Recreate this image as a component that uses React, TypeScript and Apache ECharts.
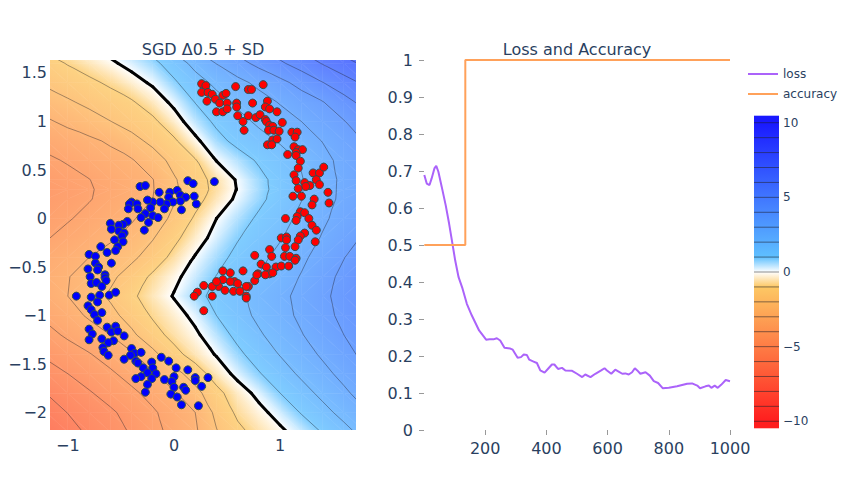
import { useEffect, useRef } from "react"
import * as echarts from "echarts"

const FONT = "DejaVu Sans"
const INK = "#2a3f5f"

// decision surface, values at these nodes
const xNodes = [-1.2, -1.0, -0.8, -0.6, -0.4, -0.2, 0, 0.2, 0.4, 0.6, 0.8, 1.0, 1.2, 1.4, 1.6, 1.8]
const yNodes = [1.8, 1.6, 1.4, 1.2, 1.0, 0.8, 0.6, 0.4, 0.3, 0.2, 0.0, -0.2, -0.4, -0.6, -0.8, -1.0, -1.2, -1.4, -1.6, -1.8, -2.0, -2.2]
const zGrid = [
  [-0.64, -0.27, 0.09, 0.45, 0.82, 1.5, 2.5, 3.31, 3.94, 4.55, 5.15, 5.76, 6.38, 7.0, 7.63, 8.2],
  [-1.36, -0.94, -0.55, -0.16, 0.29, 0.76, 1.45, 2.3, 3.03, 3.66, 4.26, 4.85, 5.45, 6.06, 6.65, 7.2],
  [-1.84, -1.52, -1.21, -0.84, -0.37, 0.14, 0.86, 1.59, 2.23, 2.73, 3.23, 3.74, 4.32, 4.97, 5.58, 6.18],
  [-2.47, -2.12, -1.78, -1.44, -1.1, -0.52, 0.21, 1.03, 1.64, 2.18, 2.62, 3.07, 3.51, 3.96, 4.64, 5.33],
  [-3.14, -2.77, -2.4, -2.02, -1.61, -1.2, -0.41, 0.5, 1.18, 1.69, 2.17, 2.58, 3.0, 3.48, 3.95, 4.64],
  [-3.73, -3.47, -3.2, -2.86, -2.32, -1.76, -1.15, -0.21, 0.7, 1.27, 1.67, 2.09, 2.56, 3.03, 3.54, 4.06],
  [-4.15, -3.92, -3.64, -3.36, -3.08, -2.45, -1.72, -1.07, 0.03, 0.58, 1.12, 1.6, 2.09, 2.72, 3.28, 3.79],
  [-4.5, -4.26, -4.02, -3.7, -3.37, -3.03, -2.1, -1.41, -0.69, 0.1, 0.74, 1.35, 1.94, 2.6, 3.2, 3.7],
  [-4.62, -4.35, -4.08, -3.75, -3.4, -3.05, -2.17, -1.45, -0.74, 0.05, 0.7, 1.34, 1.95, 2.62, 3.21, 3.7],
  [-4.6, -4.33, -4.05, -3.71, -3.36, -3.0, -2.09, -1.33, -0.56, 0.18, 0.79, 1.38, 1.97, 2.63, 3.23, 3.73],
  [-4.3, -4.07, -3.77, -3.44, -3.11, -2.54, -1.77, -0.87, 0.0, 0.59, 1.15, 1.67, 2.22, 2.84, 3.37, 3.85],
  [-4.05, -3.74, -3.44, -3.14, -2.67, -2.06, -1.25, -0.42, 0.31, 0.94, 1.44, 1.93, 2.5, 3.08, 3.61, 4.14],
  [-3.6, -3.3, -3.0, -2.6, -2.2, -1.57, -0.72, 0.06, 0.69, 1.25, 1.75, 2.27, 2.81, 3.38, 3.97, 4.56],
  [-3.4, -3.04, -2.63, -2.21, -1.58, -0.82, -0.21, 0.41, 1.03, 1.54, 2.05, 2.55, 3.06, 3.65, 4.24, 4.85],
  [-3.45, -3.0, -2.44, -1.86, -1.17, -0.55, 0.06, 0.71, 1.28, 1.79, 2.29, 2.76, 3.26, 3.79, 4.35, 4.94],
  [-3.8, -3.36, -2.88, -2.29, -1.62, -0.89, -0.37, 0.23, 1.0, 1.63, 2.2, 2.68, 3.18, 3.69, 4.24, 4.85],
  [-4.3, -3.85, -3.43, -3.0, -2.2, -1.38, -0.7, -0.16, 0.54, 1.25, 1.88, 2.42, 2.95, 3.47, 4.0, 4.57],
  [-4.84, -4.45, -4.06, -3.6, -3.14, -2.26, -1.32, -0.58, 0.07, 0.79, 1.44, 2.05, 2.59, 3.14, 3.68, 4.24],
  [-5.4, -5.0, -4.57, -4.15, -3.65, -3.11, -2.38, -1.5, -0.55, 0.27, 0.93, 1.56, 2.17, 2.72, 3.28, 3.83],
  [-5.98, -5.53, -5.09, -4.64, -4.2, -3.69, -3.11, -2.33, -1.29, -0.46, 0.26, 1.0, 1.63, 2.24, 2.82, 3.41],
  [-6.42, -5.98, -5.56, -5.15, -4.66, -4.13, -3.57, -3.0, -1.76, -0.81, -0.27, 0.36, 1.06, 1.69, 2.3, 2.9],
  [-6.8, -6.33, -5.86, -5.4, -4.91, -4.3, -3.71, -3.14, -2.06, -1.24, -0.67, -0.19, 0.4, 1.06, 1.69, 2.33],
]

const contourLevels = [-10, -9, -8, -7, -6, -5, -4, -3, -2, -1, 0, 1, 2, 3, 4, 5, 6, 7, 8, 9, 10]
const colorbarTicks = [-10, -5, 0, 5, 10]

const bluePoints = [
  [0.38, 0.38], [0.13, 0.39], [0.18, 0.36], [-0.32, 0.33], [-0.27, 0.34], [-0.14, 0.27], [-0.04, 0.27], [0.03, 0.29],
  [0.06, 0.24], [-0.05, 0.22], [0.11, 0.22], [0.19, 0.23], [0.21, 0.15], [0.06, 0.18], [-0.01, 0.17], [-0.07, 0.15],
  [-0.13, 0.17], [-0.2, 0.17], [-0.25, 0.19], [-0.4, 0.17], [-0.42, 0.15], [-0.35, 0.15], [-0.43, 0.1], [-0.34, 0.1],
  [-0.22, 0.11], [-0.09, 0.1], [0.07, 0.09], [-0.27, 0.05], [-0.31, 0.01], [-0.2, 0.03], [-0.15, 0.01], [-0.24, -0.04],
  [-0.28, -0.12], [-0.44, -0.03], [-0.48, -0.06], [-0.52, -0.07], [-0.6, -0.05], [-0.59, -0.11], [-0.52, -0.13],
  [-0.47, -0.15], [-0.49, -0.18], [-0.56, -0.22], [-0.48, -0.24], [-0.53, -0.29], [-0.69, -0.29], [-0.55, -0.33],
  [-0.63, -0.35], [-0.8, -0.37], [-0.74, -0.39], [-0.74, -0.46], [-0.59, -0.46], [-0.71, -0.5], [-0.81, -0.52],
  [-0.79, -0.6], [-0.65, -0.58], [-0.72, -0.53], [-0.65, -0.61], [-0.78, -0.67], [-0.73, -0.66], [-0.64, -0.64],
  [-0.68, -0.7], [-0.92, -0.8], [-0.78, -0.81], [-0.7, -0.79], [-0.61, -0.79], [-0.55, -0.76], [-0.72, -0.86],
  [-0.81, -0.9], [-0.78, -0.94], [-0.75, -0.99], [-0.68, -0.97], [-0.72, -1.05], [-0.8, -1.14], [-0.63, -1.12],
  [-0.55, -1.11], [-0.59, -1.17], [-0.53, -1.16], [-0.47, -1.21], [-0.77, -1.19], [-0.8, -1.25], [-0.68, -1.24],
  [-0.57, -1.26], [-0.62, -1.28], [-0.67, -1.33], [-0.66, -1.37], [-0.62, -1.41], [-0.4, -1.34], [-0.37, -1.39],
  [-0.31, -1.38], [-0.41, -1.41], [-0.47, -1.45], [-0.36, -1.47], [-0.34, -1.49], [-0.12, -1.43], [-0.05, -1.47],
  [-0.21, -1.48], [-0.29, -1.54], [-0.2, -1.54], [0.02, -1.54], [0.13, -1.56], [-0.17, -1.6], [-0.25, -1.59],
  [-0.31, -1.63], [-0.36, -1.65], [-0.21, -1.65], [-0.09, -1.66], [0.0, -1.63], [0.2, -1.64], [0.2, -1.67],
  [0.32, -1.64], [-0.02, -1.68], [-0.25, -1.71], [0.0, -1.74], [0.09, -1.74], [0.11, -1.77], [0.26, -1.73],
  [-0.03, -1.81], [-0.27, -1.79], [0.03, -1.84], [0.07, -1.92], [0.23, -1.93],
]

const redPoints = [
  [0.26, 1.39], [0.3, 1.37], [0.26, 1.3], [0.32, 1.3], [0.36, 1.28], [0.31, 1.21], [0.39, 1.23], [0.46, 1.27],
  [0.49, 1.29], [0.43, 1.19], [0.5, 1.19], [0.4, 1.1], [0.46, 1.1], [0.5, 1.13], [0.59, 1.19], [0.59, 1.15],
  [0.58, 1.36], [0.7, 1.33], [0.73, 1.33], [0.84, 1.38], [0.74, 1.19], [0.88, 1.21], [0.86, 1.15], [0.9, 1.13],
  [0.97, 1.1], [0.6, 1.06], [0.7, 1.06], [0.77, 1.04], [0.81, 1.07], [0.86, 1.02], [0.87, 1.0], [0.65, 1.0],
  [0.66, 0.91], [0.9, 0.96], [0.93, 0.95], [1.02, 0.99], [0.89, 0.91], [0.94, 0.91], [0.99, 0.9], [0.93, 0.81],
  [0.97, 0.82], [0.88, 0.76], [0.92, 0.76], [1.11, 0.89], [1.16, 0.89], [1.14, 0.84], [1.13, 0.74], [1.17, 0.71],
  [1.21, 0.71], [1.15, 0.68], [1.07, 0.66], [1.15, 0.65], [1.19, 0.59], [1.17, 0.52], [1.13, 0.45], [1.15, 0.39],
  [1.31, 0.47], [1.37, 0.47], [1.41, 0.53], [1.34, 0.4], [1.23, 0.37], [1.28, 0.34], [1.24, 0.33], [1.37, 0.35],
  [1.17, 0.31], [1.12, 0.23], [1.2, 0.23], [1.32, 0.2], [1.45, 0.27], [1.46, 0.16], [1.3, 0.14], [1.19, 0.07],
  [1.23, 0.06], [1.27, 0.0], [1.16, 0.02], [1.15, -0.02], [1.05, 0.0], [1.3, -0.07], [1.34, -0.12], [1.23, -0.15],
  [1.19, -0.18], [1.33, -0.24], [1.01, -0.2], [1.06, -0.19], [1.06, -0.22], [1.17, -0.22], [1.14, -0.29],
  [1.05, -0.3], [0.9, -0.32], [0.92, -0.39], [1.04, -0.39], [1.09, -0.39], [0.76, -0.38], [1.15, -0.41],
  [0.82, -0.47], [0.87, -0.5], [0.9, -0.57], [0.96, -0.5], [1.01, -0.49], [1.08, -0.49], [0.65, -0.54],
  [0.46, -0.54], [0.53, -0.56], [0.79, -0.57], [0.86, -0.58], [0.76, -0.64], [0.7, -0.7], [0.57, -0.65],
  [0.53, -0.65], [0.46, -0.63], [0.42, -0.7], [0.36, -0.7], [0.28, -0.69], [0.22, -0.76], [0.19, -0.8],
  [0.36, -0.8], [0.48, -0.74], [0.56, -0.75], [0.62, -0.75], [0.68, -0.8], [0.28, -0.95], [0.68, -0.82],
  [0.78, -0.58], [0.93, -0.56], [1.14, -0.43], [0.4, -0.65], [0.6, -0.67], [0.68, -0.7],
]

const lossSteps = [1, 9, 18, 25, 34, 40, 47, 58, 71, 82, 91, 102, 113, 126, 140, 156, 180, 203, 214, 227, 238, 249,
  263, 282, 290, 306, 317, 326, 336, 344, 358, 369, 380, 394, 407, 418, 426, 438, 451, 462, 484, 500, 517, 527, 544,
  560, 579, 590, 598, 612, 625, 636, 648, 658, 669, 680, 689, 697, 707, 724, 738, 751, 765, 780, 800, 827, 860, 876,
  893, 902, 920, 931, 939, 950, 960, 971, 986, 1000]
const lossValues = [0.689, 0.666, 0.662, 0.68, 0.707, 0.714, 0.698, 0.657, 0.607, 0.558, 0.513, 0.458, 0.413, 0.382,
  0.341, 0.31, 0.269, 0.244, 0.245, 0.245, 0.248, 0.242, 0.222, 0.22, 0.217, 0.195, 0.197, 0.204, 0.203, 0.19, 0.185,
  0.181, 0.161, 0.155, 0.167, 0.177, 0.177, 0.165, 0.168, 0.161, 0.16, 0.152, 0.143, 0.15, 0.143, 0.152, 0.161, 0.167,
  0.161, 0.152, 0.163, 0.158, 0.152, 0.153, 0.15, 0.156, 0.167, 0.161, 0.152, 0.156, 0.147, 0.132, 0.127, 0.113,
  0.114, 0.118, 0.125, 0.126, 0.12, 0.113, 0.118, 0.12, 0.114, 0.12, 0.114, 0.122, 0.135, 0.132]
const accuracySteps = [1, 135, 135, 1000]
const accuracyValues = [0.5, 0.5, 1, 1]

const xTicksLeft = [-1, 0, 1]
const yTicksLeft = [-2, -1.5, -1, -0.5, 0, 0.5, 1, 1.5]
const stepTicks = [200, 400, 600, 800, 1000]

// colour scale (red - white - blue) and the 80% opacity of the filled surface
const scaleStops = [-10, -1, 0, 1, 10]
const scaleColors = [[255, 30, 30], [253, 200, 100], [255, 255, 255], [95, 192, 255], [25, 25, 255]]
const FIELD_FADE = 0.2

function colorAt(v: number, fade: number) {
  let c = scaleColors[0]
  if (v >= scaleStops[scaleStops.length - 1]) c = scaleColors[scaleColors.length - 1]
  else if (v > scaleStops[0]) {
    for (let k = 0; k < scaleStops.length - 1; k++) {
      if (v <= scaleStops[k + 1]) {
        const t = (v - scaleStops[k]) / (scaleStops[k + 1] - scaleStops[k])
        c = scaleColors[k].map((a, n) => a + t * (scaleColors[k + 1][n] - a))
        break
      }
    }
  }
  const m = c.map((a) => Math.round(a * (1 - fade) + 255 * fade))
  return `rgb(${m[0]},${m[1]},${m[2]})`
}

function stopsBetween(lo: number, hi: number, fade: number) {
  const stops = [{ offset: 0, color: colorAt(lo, fade) }]
  scaleStops.forEach((s) => {
    if (s > lo && s < hi) stops.push({ offset: (s - lo) / (hi - lo), color: colorAt(s, fade) })
  })
  stops.push({ offset: 1, color: colorAt(hi, fade) })
  return stops
}

// linear colour over a triangle: gradient runs along the value gradient
function triangleFill(pts: number[][], vals: number[]) {
  const [p0, p1, p2] = pts
  const e1x = p1[0] - p0[0], e1y = p1[1] - p0[1]
  const e2x = p2[0] - p0[0], e2y = p2[1] - p0[1]
  const det = e1x * e2y - e1y * e2x
  const lo = Math.min(...vals), hi = Math.max(...vals)
  if (Math.abs(det) < 1e-9 || hi - lo < 1e-9) return colorAt(vals[0], FIELD_FADE)
  const d1 = vals[1] - vals[0], d2 = vals[2] - vals[0]
  const a = (d1 * e2y - d2 * e1y) / det
  const b = (d2 * e1x - d1 * e2x) / det
  const g2 = a * a + b * b
  const s = pts[vals.indexOf(lo)]
  const k = (hi - lo) / g2
  return new echarts.graphic.LinearGradient(s[0], s[1], s[0] + a * k, s[1] + b * k, stopsBetween(lo, hi, FIELD_FADE), true)
}

function cellTriangles(api: any, i: number, j: number) {
  const P = (a: number, b: number) => api.coord([xNodes[a], yNodes[b]])
  const c = [P(i, j), P(i + 1, j), P(i + 1, j + 1), P(i, j + 1)]
  const v = [zGrid[j][i], zGrid[j][i + 1], zGrid[j + 1][i + 1], zGrid[j + 1][i]]
  const split = Math.abs(v[0] - v[2]) <= Math.abs(v[1] - v[3]) ? [[0, 1, 2], [0, 2, 3]] : [[0, 1, 3], [1, 2, 3]]
  return split.map((t) => ({ pts: t.map((n) => c[n]), vals: t.map((n) => v[n]) }))
}

function isoSegments(pts: number[][], vals: number[]) {
  const vv = vals.map((v) => (Number.isInteger(v) ? v + 1e-6 : v))
  const lo = Math.min(...vv), hi = Math.max(...vv)
  const out: { L: number; a: number[]; b: number[] }[] = []
  contourLevels.forEach((L) => {
    if (L <= lo || L >= hi) return
    const hits: number[][] = []
    ;[[0, 1], [1, 2], [2, 0]].forEach(([m, n]) => {
      const da = vv[m] - L, db = vv[n] - L
      if (da * db < 0) {
        const t = da / (da - db)
        hits.push([pts[m][0] + t * (pts[n][0] - pts[m][0]), pts[m][1] + t * (pts[n][1] - pts[m][1])])
      }
    })
    if (hits.length === 2) out.push({ L, a: hits[0], b: hits[1] })
  })
  return out
}

const cells: number[][] = []
for (let j = 0; j < yNodes.length - 1; j++) {
  for (let i = 0; i < xNodes.length - 1; i++) {
    cells.push([(xNodes[i] + xNodes[i + 1]) / 2, (yNodes[j] + yNodes[j + 1]) / 2, i, j])
  }
}

const cbEdges = [-10.45, ...contourLevels, 10.45]
const cbBands = cbEdges.slice(0, -1).map((lo, k) => [0.5, (lo + cbEdges[k + 1]) / 2, lo, cbEdges[k + 1]])

const minus = (v: number) => String(v).replace("-", "\u2212")
const tickFont = { color: INK, fontSize: 16, fontFamily: FONT }

const option = {
  animation: false,
  backgroundColor: "#fff",
  textStyle: { fontFamily: FONT },
  grid: [
    { left: 50, top: 60, width: 306, height: 370 },
    { left: 424, top: 60, width: 306, height: 370 },
    { left: 754, top: 116, width: 25, height: 312 },
  ],
  graphic: [
    { type: "text", x: 203, y: 49, style: { text: "SGD \u03940.5 + SD", fill: INK, fontSize: 16, fontFamily: FONT, align: "center", verticalAlign: "middle" } },
    { type: "text", x: 577, y: 49, style: { text: "Loss and Accuracy", fill: INK, fontSize: 16, fontFamily: FONT, align: "center", verticalAlign: "middle" } },
  ],
  legend: {
    data: ["loss", "accuracy"],
    orient: "vertical",
    left: 748,
    top: 67,
    icon: "rect",
    itemWidth: 30,
    itemHeight: 2,
    itemGap: 6,
    padding: 0,
    textStyle: { color: INK, fontSize: 12, fontFamily: FONT, lineHeight: 14 },
  },
  xAxis: [
    {
      gridIndex: 0, type: "value", min: -1.168, max: 1.714,
      axisLine: { show: false }, axisTick: { show: false }, splitLine: { show: false },
      axisLabel: { ...tickFont, customValues: xTicksLeft, formatter: minus, margin: 7 },
    },
    {
      gridIndex: 1, type: "value", min: 0, max: 1000,
      axisLine: { show: false }, splitLine: { show: false },
      axisTick: { show: true, customValues: stepTicks, length: 5, lineStyle: { color: "#999" } },
      axisLabel: { ...tickFont, customValues: stepTicks, formatter: (v: number) => String(v), margin: 10 },
    },
    { gridIndex: 2, type: "value", min: 0, max: 1, show: false },
  ],
  yAxis: [
    {
      gridIndex: 0, type: "value", min: -2.18, max: 1.634,
      axisLine: { show: false }, axisTick: { show: false }, splitLine: { show: false },
      axisLabel: { ...tickFont, customValues: yTicksLeft, formatter: minus, margin: 3 },
    },
    {
      gridIndex: 1, type: "value", min: 0, max: 1, interval: 0.1,
      axisLine: { show: false }, splitLine: { show: false },
      axisTick: { show: true, length: 5, lineStyle: { color: "#999" } },
      axisLabel: { ...tickFont, margin: 11 },
    },
    {
      gridIndex: 2, type: "value", min: -10.45, max: 10.45, position: "right",
      axisLine: { show: false }, axisTick: { show: false }, splitLine: { show: false },
      axisLabel: { color: INK, fontSize: 12, fontFamily: FONT, customValues: colorbarTicks, formatter: minus, margin: 4 },
    },
  ],
  series: [
    {
      type: "custom",
      xAxisIndex: 0,
      yAxisIndex: 0,
      clip: true,
      silent: true,
      z: 1,
      encode: { x: 0, y: 1 },
      data: cells,
      renderItem: (_params: any, api: any) => ({
        type: "group",
        children: cellTriangles(api, api.value(2), api.value(3)).map((t) => {
          const fill = triangleFill(t.pts, t.vals)
          return { type: "polygon", shape: { points: t.pts }, style: { fill, stroke: fill, lineWidth: 0.6 } }
        }),
      }),
    },
    {
      type: "custom",
      xAxisIndex: 0,
      yAxisIndex: 0,
      clip: true,
      silent: true,
      z: 2,
      encode: { x: 0, y: 1 },
      data: cells,
      renderItem: (_params: any, api: any) => {
        const children: any[] = []
        cellTriangles(api, api.value(2), api.value(3)).forEach((t) => {
          isoSegments(t.pts, t.vals).forEach((s) => {
            children.push({
              type: "line",
              z2: s.L === 0 ? 10 : 1,
              shape: { x1: s.a[0], y1: s.a[1], x2: s.b[0], y2: s.b[1] },
              style: s.L === 0
                ? { stroke: "#000", lineWidth: 3, lineCap: "round" }
                : { stroke: "rgba(30,30,40,0.5)", lineWidth: 0.8 },
            })
          })
        })
        return { type: "group", children }
      },
    },
    {
      type: "scatter",
      xAxisIndex: 0,
      yAxisIndex: 0,
      z: 3,
      symbolSize: 8,
      itemStyle: { color: "#0000ff", borderColor: "#2f4f4f", borderWidth: 1, opacity: 1 },
      data: bluePoints,
    },
    {
      type: "scatter",
      xAxisIndex: 0,
      yAxisIndex: 0,
      z: 3,
      symbolSize: 8,
      itemStyle: { color: "#ff0000", borderColor: "#2f4f4f", borderWidth: 1, opacity: 1 },
      data: redPoints,
    },
    {
      name: "loss",
      type: "line",
      xAxisIndex: 1,
      yAxisIndex: 1,
      symbol: "none",
      lineStyle: { color: "#ab63fa", width: 2 },
      itemStyle: { color: "#ab63fa" },
      data: lossSteps.map((s, k) => [s, lossValues[k]]),
    },
    {
      name: "accuracy",
      type: "line",
      xAxisIndex: 1,
      yAxisIndex: 1,
      symbol: "none",
      lineStyle: { color: "#ffa15a", width: 2 },
      itemStyle: { color: "#ffa15a" },
      data: accuracySteps.map((s, k) => [s, accuracyValues[k]]),
    },
    {
      type: "custom",
      xAxisIndex: 2,
      yAxisIndex: 2,
      silent: true,
      encode: { x: 0, y: 1 },
      data: cbBands,
      renderItem: (_params: any, api: any) => {
        const lo = api.value(2), hi = api.value(3)
        const tl = api.coord([0, hi]), br = api.coord([1, lo])
        const children: any[] = [
          {
            type: "rect",
            shape: { x: tl[0], y: tl[1] - 0.3, width: br[0] - tl[0], height: br[1] - tl[1] + 0.6 },
            style: { fill: new echarts.graphic.LinearGradient(0, br[1], 0, tl[1], stopsBetween(lo, hi, 0), true) },
          },
        ]
        if (contourLevels.includes(lo)) {
          children.push({
            type: "line",
            z2: 5,
            shape: { x1: tl[0], y1: br[1], x2: br[0], y2: br[1] },
            style: { stroke: lo === 0 ? "rgba(110,110,110,0.8)" : "rgba(30,30,40,0.55)", lineWidth: 1 },
          })
        }
        return { type: "group", children }
      },
    },
  ],
}

export default function App() {
  const chartRef = useRef<HTMLDivElement>(null)

  useEffect(() => {
    if (!chartRef.current) return
    const chart = echarts.init(chartRef.current, null, { renderer: "svg" })
    chart.setOption(option as any)
    return () => {
      chart.dispose()
    }
  }, [])

  return (
    <div
      ref={chartRef}
      style={{ position: "fixed", left: 0, top: 0, width: 854, height: 480, background: "#fff" }}
    />
  )
}
